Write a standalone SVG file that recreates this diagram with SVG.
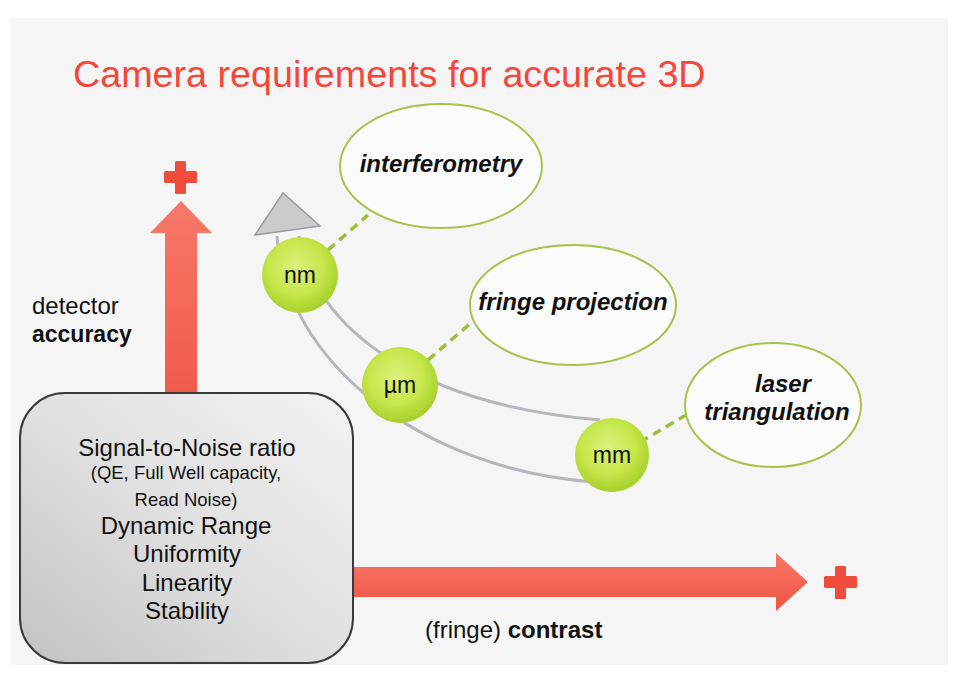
<svg xmlns="http://www.w3.org/2000/svg" width="961" height="679" viewBox="0 0 961 679">
<defs>
  <linearGradient id="boxGrad" x1="1" y1="0" x2="0" y2="1">
    <stop offset="0" stop-color="#f3f3f3"/>
    <stop offset="0.5" stop-color="#e0e0e0"/>
    <stop offset="1" stop-color="#c2c2c2"/>
  </linearGradient>
  <radialGradient id="ballGrad" cx="0.45" cy="0.4" r="0.6">
    <stop offset="0" stop-color="#dcf27e"/>
    <stop offset="0.6" stop-color="#c6e64a"/>
    <stop offset="1" stop-color="#a8cf2c"/>
  </radialGradient>
  <linearGradient id="redV" x1="0" y1="0" x2="0" y2="1">
    <stop offset="0" stop-color="#f7786a"/>
    <stop offset="1" stop-color="#f05a48"/>
  </linearGradient>
  <linearGradient id="redH" x1="0" y1="0" x2="0" y2="1">
    <stop offset="0" stop-color="#f7786a"/>
    <stop offset="1" stop-color="#f05442"/>
  </linearGradient>
</defs>
<style>
  .t { font-family: "Liberation Sans", Arial, sans-serif; fill: #111; }
  .lbl { font-family: "Liberation Sans", Arial, sans-serif; font-weight: bold; font-style: italic; font-size: 24px; fill: #111; text-anchor: middle; }
  .bx { font-family: "Liberation Sans", Arial, sans-serif; fill: #111; text-anchor: middle; }
  .ell { fill: #fbfbfb; stroke: #a7c34c; stroke-width: 2; }
  .ball { fill: url(#ballGrad); }
  .unit { font-family: "Liberation Sans", Arial, sans-serif; font-size: 23px; fill: #111; text-anchor: middle; }
  .dash { stroke: #9cbf3a; stroke-width: 3.5; stroke-dasharray: 9 6; fill: none; }
  .band { stroke: #b4b8bc; stroke-width: 3; fill: none; }
  .plus { fill: #f04c3c; }
</style>
<rect x="0" y="0" width="961" height="679" fill="#ffffff"/>
<rect x="10" y="18" width="938" height="647" fill="#f5f5f5"/>

<text id="title" x="73" y="87" font-family="Liberation Sans, Arial, sans-serif" font-size="37.7" fill="#f4473a">Camera requirements for accurate 3D</text>

<g id="connectors">
  <path class="band" d="M277,236 C285,360 420,470 595,482"/>
  <path class="band" d="M299,236 C315,330 420,405 600,420"/>
  <polygon points="255,235 283,193 320,226" fill="#c9cbcd" stroke="#9a9ea2" stroke-width="1.5"/>
  <line class="dash" x1="328" y1="250" x2="368" y2="215"/>
  <line class="dash" x1="428" y1="360" x2="472" y2="322"/>
  <line class="dash" x1="640" y1="442" x2="688" y2="414"/>
</g>

<g id="accuracy-axis">
  <polygon points="165,400 165,233 150,233 181,201 212,233 197,233 197,400" fill="url(#redV)"/>
  <g class="plus">
    <rect x="164" y="171" width="33" height="12" rx="1.5"/>
    <rect x="175" y="161" width="11" height="33" rx="1.5"/>
  </g>
  <text class="t" x="32" y="314" font-size="24">detector</text>
  <text class="t" x="32" y="342" font-size="23" font-weight="bold">accuracy</text>
</g>

<g id="contrast-axis">
  <polygon points="340,567 776,567 776,553 808,582 776,611 776,597 340,597" fill="url(#redH)"/>
  <g class="plus">
    <rect x="824" y="576" width="33" height="12" rx="1.5"/>
    <rect x="835" y="566" width="11" height="33" rx="1.5"/>
  </g>
  <text class="t" x="425" y="638" font-size="24">(fringe) <tspan font-weight="bold">contrast</tspan></text>
</g>

<g id="requirements-box">
  <rect x="20" y="393" width="333" height="270" rx="45" fill="url(#boxGrad)" stroke="#3a3a3a" stroke-width="2"/>
  <text class="bx" x="187" y="456" font-size="24">Signal-to-Noise ratio</text>
  <text class="bx" x="186" y="479" font-size="18.5">(QE, Full Well capacity,</text>
  <text class="bx" x="186" y="506" font-size="18.5">Read Noise)</text>
  <text class="bx" x="186" y="534" font-size="24">Dynamic Range</text>
  <text class="bx" x="187" y="562" font-size="24">Uniformity</text>
  <text class="bx" x="187" y="591" font-size="24">Linearity</text>
  <text class="bx" x="187" y="619" font-size="24">Stability</text>
</g>

<g id="interferometry">
  <ellipse class="ell" cx="441" cy="166" rx="101" ry="62"/>
  <text class="lbl" x="441" y="172">interferometry</text>
</g>
<g id="fringe-projection">
  <ellipse class="ell" cx="573" cy="305" rx="103" ry="60"/>
  <text class="lbl" x="573" y="310">fringe projection</text>
</g>
<g id="laser-triangulation">
  <ellipse class="ell" cx="773" cy="405" rx="88" ry="62"/>
  <text class="lbl" x="783" y="392">laser</text>
  <text class="lbl" x="777" y="420" font-size="25">triangulation</text>
</g>

<g id="nm">
  <circle class="ball" cx="300" cy="275" r="38"/>
  <text class="unit" x="300" y="283">nm</text>
</g>
<g id="um">
  <circle class="ball" cx="400" cy="385" r="38"/>
  <text class="unit" x="400" y="393">µm</text>
</g>
<g id="mm">
  <circle class="ball" cx="612" cy="455" r="37"/>
  <text class="unit" x="612" y="463">mm</text>
</g>
</svg>
